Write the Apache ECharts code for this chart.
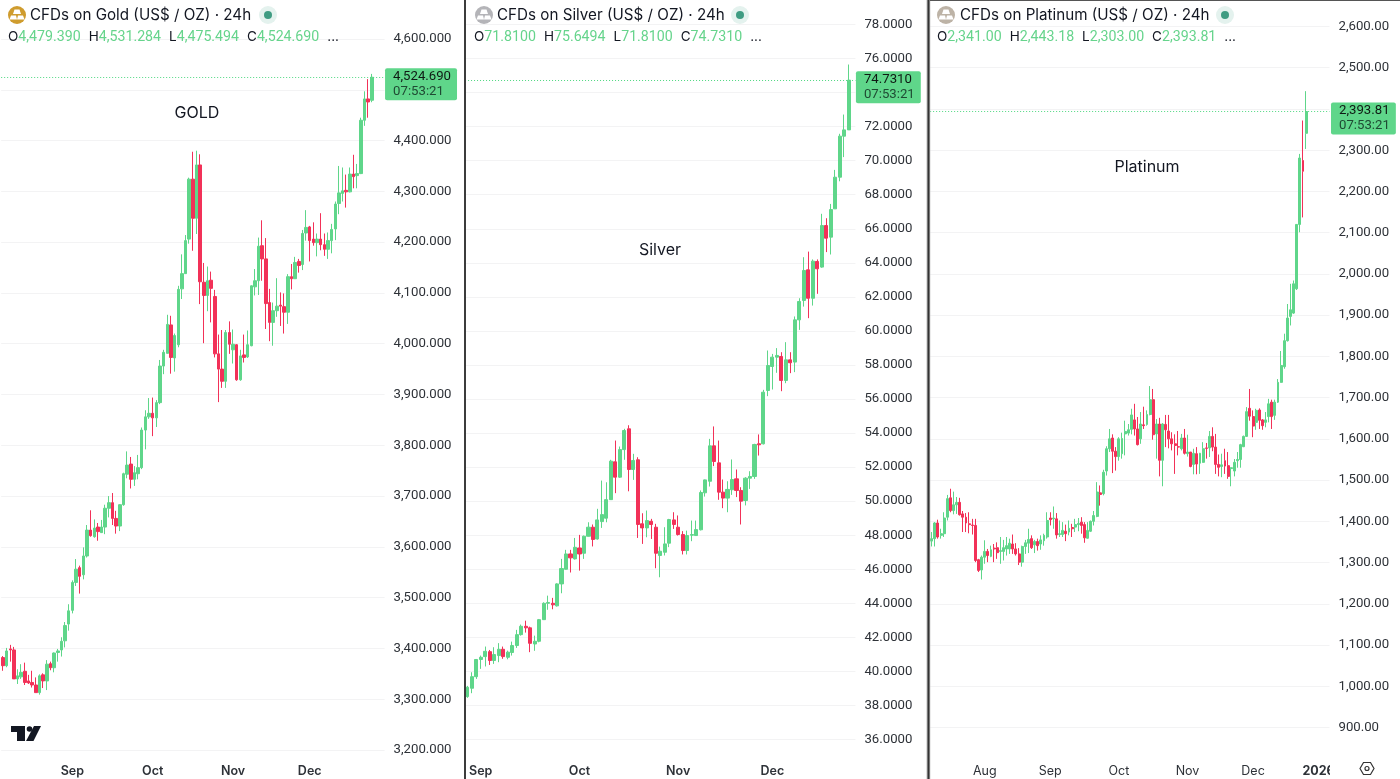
<!DOCTYPE html>
<html><head><meta charset="utf-8">
<style>html,body{margin:0;padding:0;background:#fff}#c{width:1400px;height:779px}</style>
<script src="https://cdn.jsdelivr.net/npm/echarts@6/dist/echarts.min.js"></script>
</head><body><div id="c"></div>
<script>
// each candle: [open, close, low, high]
const goldCandles=[[3382,3366,3356,3385],[3366,3395,3363,3401],[3399,3397,3374,3407],[3397,3340,3340,3403],[3340,3346,3330,3359],[3344,3353,3340,3369],[3355,3333,3328,3372],[3336,3332,3330,3348],[3333,3328,3323,3356],[3328,3313,3313,3343],
[3313,3346,3309,3349],[3348,3336,3322,3351],[3336,3369,3318,3377],[3370,3362,3357,3374],[3362,3391,3353,3392],[3392,3395,3374,3399],[3397,3414,3384,3422],[3415,3445,3402,3452],[3448,3474,3435,3487],[3475,3530,3469,3534],
[3530,3556,3523,3576],[3559,3542,3508,3563],[3545,3582,3536,3599],[3582,3633,3579,3643],[3633,3622,3620,3672],[3620,3637,3618,3654],[3639,3630,3612,3647],[3628,3639,3628,3653],[3639,3676,3625,3683],[3676,3687,3658,3700],
[3687,3656,3643,3706],[3656,3641,3626,3671],[3641,3683,3631,3684],[3683,3744,3681,3746],[3743,3761,3735,3788],[3763,3733,3715,3777],[3733,3746,3720,3759],[3744,3756,3733,3781],[3756,3830,3753,3835],[3830,3856,3792,3869],
[3856,3863,3852,3893],[3863,3854,3818,3894],[3854,3884,3836,3889],[3884,3956,3881,3968],[3956,3983,3940,3988],[3981,4038,3981,4057],[4037,3973,3941,4055],[3972,4016,3945,4020],[3998,4107,3993,4114],[4108,4138,4088,4176],
[4138,4203,4138,4214],[4206,4324,4197,4327],[4324,4247,4183,4378],[4247,4352,4216,4380],[4352,4122,4078,4373],[4121,4095,4001,4159],[4095,4124,4064,4152],[4125,4109,4042,4142],[4093,3980,3973,4106],[3980,3950,3885,4018],
[3950,3926,3913,4027],[3926,4022,3913,4027],[4022,3999,3980,4044],[3988,3999,3961,4028],[3998,3929,3927,3999],[3929,3976,3927,3988],[3978,3973,3963,4018],[3974,3998,3972,4026],[3996,4114,3995,4115],[4112,4124,4095,4147],
[4124,4192,4096,4209],[4193,4167,4124,4243],[4167,4079,4029,4208],[4081,4042,4005,4108],[4042,4065,3996,4081],[4065,4074,4053,4129],[4076,4074,4035,4101],[4073,4062,4020,4099],[4062,4132,4039,4137],[4132,4128,4107,4157],
[4128,4160,4128,4171],[4162,4154,4140,4167],[4156,4217,4145,4224],[4218,4229,4203,4263],[4230,4203,4162,4232],[4206,4199,4193,4239],[4199,4206,4172,4217],[4206,4195,4184,4257],[4195,4186,4173,4217],[4186,4203,4167,4219],
[4203,4225,4178,4236],[4226,4275,4204,4280],[4276,4297,4255,4350],[4296,4301,4280,4347],[4302,4299,4268,4333],[4299,4334,4298,4347],[4334,4329,4306,4372],[4331,4335,4306,4354],[4335,4440,4334,4445],[4440,4482,4429,4497],
[4482,4476,4445,4521],[4479.39,4524.69,4475.494,4531.284]];
const silverCandles=[[38.52,39.07,38.45,39.15],[39.01,39.69,38.72,39.95],[39.69,40.70,39.56,40.73],[40.70,40.83,40.15,40.93],[40.87,41.18,40.29,41.46],[41.16,40.64,40.38,41.26],[40.64,40.99,40.44,41.42],[40.93,41.30,40.54,41.66],[41.30,40.87,40.74,41.46],[40.83,41.13,40.71,41.22],
[41.11,41.52,40.93,41.75],[41.52,42.16,41.38,42.44],[42.16,42.65,42.10,42.75],[42.65,42.56,42.28,42.98],[42.56,41.65,41.13,42.63],[41.61,41.77,41.21,42.10],[41.77,43.04,41.71,43.08],[43.04,44.00,43.02,44.06],[44.00,44.05,43.62,44.45],[44.00,43.91,43.65,44.32],
[43.85,45.14,43.81,45.18],[45.14,46.04,44.59,46.61],[46.00,46.90,45.98,47.14],[46.90,46.67,45.81,47.14],[46.61,47.29,46.57,47.84],[47.25,46.90,45.92,48.02],[46.94,47.94,46.61,47.98],[47.94,48.47,47.92,48.76],[48.47,47.75,47.34,48.63],[47.78,48.90,47.74,49.55],
[48.80,49.21,48.43,51.21],[49.00,50.09,48.76,51.11],[50.09,52.35,50.09,52.43],[52.31,51.41,50.47,53.56],[51.41,53.03,51.37,53.21],[53.03,54.15,52.43,54.25],[54.25,51.86,50.58,54.46],[51.86,52.39,51.25,52.78],[52.43,48.63,47.84,52.58],[48.67,48.43,47.49,49.29],
[48.43,48.86,47.88,49.45],[48.82,48.63,47.78,48.96],[48.47,46.94,46.06,48.67],[46.81,47.06,45.53,47.33],[47.0,47.49,46.81,48.47],[47.53,48.92,47.3,48.96],[48.9,48.63,48.37,49.35],[48.47,48.04,47.98,49.16],[48.04,47.10,46.87,48.24],[47.10,47.98,46.87,48.27],
[48.0,48.04,47.65,48.86],[47.98,48.33,47.98,48.86],[48.32,50.51,48.28,50.63],[50.49,51.25,50.27,51.27],[51.17,53.25,50.86,53.66],[53.25,52.33,52.06,54.39],[52.25,50.53,50.08,53.56],[50.53,50.18,49.59,51.27],[50.18,50.69,49.35,51.17],[50.67,51.27,50.37,52.45],
[51.31,50.63,50.24,51.86],[50.63,50.0,48.63,50.82],[50.04,51.35,49.75,51.41],[51.35,51.45,50.72,51.76],[51.45,53.33,51.31,53.37],[53.37,53.31,52.68,53.92],[53.37,56.40,53.33,56.54],[56.50,57.97,56.17,58.85],[57.91,58.46,56.56,58.65],[58.46,58.56,57.54,58.99],
[58.50,57.09,56.46,58.75],[57.09,58.30,56.93,59.34],[58.30,58.13,57.52,58.75],[58.17,60.65,57.58,60.85],[60.65,61.73,60.06,61.92],[61.79,63.55,61.43,64.33],[63.59,61.92,60.75,64.66],[61.92,64.10,61.49,64.20],[64.08,63.65,62.18,64.20],[63.75,66.19,63.71,66.88],
[66.19,65.45,64.63,66.62],[65.51,67.13,64.49,67.46],[67.17,69.03,67.17,69.46],[69.03,71.44,68.79,71.58],[71.44,71.81,70.21,72.71],[71.81,74.731,71.81,75.6494]];
const platinumCandles=[[1352,1358,1339,1374],[1358,1396,1339,1398],[1396,1362,1358,1404],[1366,1370,1358,1382],[1370,1408,1362,1422],[1410,1455,1402,1464],[1457,1426,1422,1479],[1426,1440,1417,1472],[1440,1446,1418,1459],[1446,1416,1414,1457],
[1418,1410,1374,1425],[1410,1396,1374,1420],[1394,1392,1371,1422],[1391,1390,1368,1406],[1390,1305,1301,1406],[1307,1281,1277,1309],[1282,1313,1259,1317],[1313,1327,1297,1354],[1327,1317,1301,1333],[1315,1331,1313,1341],
[1335,1333,1301,1345],[1336,1324,1309,1349],[1327,1329,1297,1362],[1327,1336,1305,1355],[1333,1341,1317,1362],[1333,1347,1321,1358],[1345,1333,1321,1368],[1333,1321,1317,1347],[1321,1301,1294,1335],[1301,1339,1290,1341],
[1339,1348,1321,1355],[1347,1356,1323,1382],[1358,1336,1333,1366],[1343,1351,1323,1355],[1351,1341,1329,1358],[1345,1355,1331,1366],[1353,1366,1341,1370],[1362,1402,1358,1422],[1408,1404,1390,1422],[1406,1408,1382,1436],
[1406,1367,1358,1420],[1368,1370,1362,1402],[1368,1378,1362,1398],[1376,1370,1352,1392],[1374,1383,1366,1402],[1385,1382,1362,1394],[1386,1392,1374,1406],[1392,1395,1376,1408],[1398,1390,1370,1410],[1392,1360,1348,1398],
[1359,1378,1358,1398],[1376,1400,1374,1402],[1400,1414,1390,1425],[1412,1471,1410,1495],[1469,1465,1438,1487],[1467,1519,1463,1525],[1522,1576,1511,1582],[1576,1600,1568,1624],[1602,1570,1517,1611],[1570,1557,1523,1580],
[1557,1600,1547,1604],[1564,1601,1552,1615],[1612,1618,1560,1644],[1614,1622,1608,1636],[1623,1658,1611,1673],[1646,1624,1608,1685],[1624,1586,1584,1653],[1600,1636,1588,1665],[1634,1632,1624,1678],[1635,1659,1632,1669],
[1659,1695,1657,1728],[1695,1610,1598,1721],[1612,1636,1552,1648],[1636,1548,1509,1651],[1548,1636,1485,1638],[1635,1622,1580,1658],[1619,1600,1577,1658],[1600,1588,1572,1616],[1588,1584,1515,1611],[1581,1580,1560,1619],
[1576,1602,1572,1612],[1602,1565,1562,1624],[1564,1568,1557,1610],[1568,1533,1531,1568],[1538,1565,1514,1576],[1564,1539,1514,1580],[1541,1565,1515,1566],[1543,1576,1542,1592],[1578,1577,1552,1590],[1578,1606,1556,1619],
[1606,1580,1570,1628],[1580,1538,1515,1612],[1538,1531,1509,1562],[1533,1537,1507,1564],[1547,1534,1515,1576],[1535,1509,1503,1568],[1528,1530,1485,1531],[1522,1543,1509,1551],[1547,1550,1530,1568],[1550,1586,1530,1588],
[1581,1606,1580,1608],[1606,1666,1605,1677],[1674,1655,1644,1721],[1654,1631,1604,1669],[1640,1669,1622,1673],[1670,1645,1624,1674],[1646,1632,1622,1648],[1640,1646,1628,1665],[1654,1685,1640,1697],[1689,1654,1624,1695],
[1657,1689,1646,1695],[1689,1737,1687,1745],[1737,1778,1736,1813],[1775,1838,1770,1855],[1838,1893,1836,1927],[1897,1913,1875,1976],[1905,1976,1903,1984],[1964,2120,1961,2121],[2120,2281,2101,2291],[2275,2249,2137,2372],[2341,2393.81,2303,2443.18]];

const goldMonths={19:'Sep',41:'Oct',63:'Nov',84:'Dec'};
const silverMonths={3:'Sep',25:'Oct',47:'Nov',68:'Dec'};
const platinumMonths={17:'Aug',38:'Sep',60:'Oct',82:'Nov',103:'Dec',124:'2026'};
const goldTitle='CFDs on Gold (US$ / OZ) · 24h';
const silverTitle='CFDs on Silver (US$ / OZ) · 24h';
const platinumTitle='CFDs on Platinum (US$ / OZ) · 24h';
const countdown='07:53:21';

const FONT='Inter, "Liberation Sans", sans-serif';
const NUM='Roboto, "Liberation Sans", sans-serif';
const GREEN='#5fd68a', RED='#f23158', GRID='#f3f3f4', INK='#131722', AXIS='#2e3238';

const panels=[
 {name:'GOLD',title:goldTitle,data:goldCandles,months:goldMonths,slots:105,dec:3,min:3200,max:4600,step:100,
  left:-1.84,band:3.68,top:39,bottom:750,barW:3,labelMargin:9,xMargin:15,tagDist:0.5,pad:[1,6,1,8],
  icon:17,iconColor:'#cf9c2e',textX:30,dotX:268,ohlcX:8,note:[197,113],bold:true},
 {name:'Silver',title:silverTitle,data:silverCandles,months:silverMonths,slots:87,dec:4,min:36,max:78,step:2,
  left:465.06,band:4.487,top:24.5,bottom:739.5,barW:3.6,labelMargin:9,xMargin:25.5,tagDist:0.5,pad:[1,6,1,8],
  icon:484,iconColor:'#b4b4b8',textX:497,dotX:740,ohlcX:474,note:[660,250],bold:true},
 {name:'Platinum',title:platinumTitle,data:platinumCandles,months:platinumMonths,slots:128,dec:2,min:900,max:2600,step:100,
  left:930.14,band:3.12,top:26.5,bottom:727.5,barW:2.4,labelMargin:9,xMargin:37.5,tagDist:1.5,pad:[1,6,1,8],
  icon:946,iconColor:'#bdb3a6',textX:960,dotX:1225,ohlcX:937,note:[1147,167],bold:false}
];
const fmt=(v,d)=>Number(v).toLocaleString('en-US',{minimumFractionDigits:d,maximumFractionDigits:d});

const grid=[],xAxis=[],yAxis=[],series=[],graphic=[];
panels.forEach((p,i)=>{
  const cats=Array.from({length:p.slots},(_,k)=>p.months[k]||'');
  const last=p.data[p.data.length-1];
  grid.push({left:p.left,top:p.top,width:p.band*p.slots,height:p.bottom-p.top,containLabel:false});
  xAxis.push({type:'category',gridIndex:i,data:cats,boundaryGap:true,max:p.slots-1,
    axisLine:{show:false},axisTick:{show:false},splitLine:{show:false},
    axisLabel:{interval:0,margin:p.xMargin,color:AXIS,fontFamily:FONT,fontSize:12.5,fontWeight:p.bold?600:400,
      formatter:v=>v==='2026'?'{b|2026}':v,rich:{b:{fontFamily:FONT,fontSize:12.5,fontWeight:700,color:AXIS}}}});
  yAxis.push({type:'value',gridIndex:i,position:'right',min:p.min,max:p.max,interval:p.step,scale:true,
    axisLine:{show:false},axisTick:{show:false},
    splitLine:{show:true,lineStyle:{color:GRID,width:1}},
    axisLabel:{margin:p.labelMargin,color:AXIS,fontFamily:NUM,fontSize:13.2,showMinLabel:true,showMaxLabel:true,
      formatter:v=>fmt(v,p.dec)}});
  series.push({type:'candlestick',name:p.name,xAxisIndex:i,yAxisIndex:i,data:p.data,barWidth:p.barW,animation:false,silent:true,
    itemStyle:{color:GREEN,color0:RED,borderColor:GREEN,borderColor0:RED,borderWidth:1},
    markLine:{silent:true,animation:false,symbol:'none',lineStyle:{type:[1,2],color:'#4fd880',width:1,opacity:1},
      data:[{yAxis:last[1]}],
      label:{show:true,position:'end',distance:p.tagDist,offset:[0,7],backgroundColor:GREEN,borderRadius:2,padding:p.pad,
        formatter:()=>'{a|'+fmt(last[1],p.dec)+'}\n{b|'+countdown+'}',
        rich:{a:{fontFamily:NUM,fontSize:13.2,color:'#0f1a14',lineHeight:15},b:{fontFamily:NUM,fontSize:13.2,color:'#1f4a33',lineHeight:15}}}}});

  // header chrome
  const c=p.icon;
  graphic.push({type:'circle',z:50,shape:{cx:c,cy:15,r:9},style:{fill:p.iconColor}});
  [[[c-2.5,9.5],[c+2.5,9.5],[c+4,14],[c-4,14]],[[c-6,15.5],[c-1,15.5],[c,19.5],[c-7.5,19.5]],[[c+1,15.5],[c+6,15.5],[c+7.5,19.5],[c,19.5]]]
    .forEach(pts=>graphic.push({type:'polygon',z:51,shape:{points:pts},style:{fill:'#fff'}}));
  graphic.push({type:'text',z:50,left:p.textX,top:8,style:{text:p.title,fill:INK,font:'15.2px '+FONT}});
  graphic.push({type:'circle',z:50,shape:{cx:p.dotX,cy:15,r:9},style:{fill:'#e4f2ee'}});
  graphic.push({type:'circle',z:51,shape:{cx:p.dotX,cy:15,r:4},style:{fill:'#3f9c82'}});
  const o=last[0],h=last[3],l=last[2],cl=last[1];
  const lab=t=>'{k|'+t+'}', val=v=>'{v|'+fmt(v,p.dec)+'}', gap='{s| }';
  graphic.push({type:'text',z:50,left:p.ohlcX,top:30,style:{
    text:lab('O')+val(o)+gap+lab('H')+val(h)+gap+lab('L')+val(l)+gap+lab('C')+val(cl)+gap+lab('...'),
    rich:{k:{fill:INK,font:'13.5px '+FONT},v:{fill:'#66d48c',font:'14.2px '+NUM},s:{width:8,font:'13px '+NUM}}}});
  graphic.push({type:'text',z:50,x:p.note[0],y:p.note[1],style:{text:p.name,fill:INK,font:'16px '+FONT,textAlign:'center',textVerticalAlign:'middle'}});
});

// frame and logo chrome
graphic.push({type:'rect',z:60,shape:{x:464,y:0,width:2,height:779},style:{fill:'#3c3c3c'}});
graphic.push({type:'rect',z:60,shape:{x:926.5,y:0,width:3.8,height:779},style:{fill:'#bdbdbd'}});
graphic.push({type:'rect',z:61,shape:{x:927.5,y:0,width:2,height:779},style:{fill:'#333'}});
graphic.push({type:'rect',z:60,shape:{x:930,y:0,width:470,height:1},style:{fill:'#555'}});
graphic.push({type:'rect',z:60,shape:{x:1330,y:758,width:18,height:21},style:{fill:'#fff'}});
[[[11,726],[25,726],[25,741],[17,741],[17,732],[11,732]],[[34,726],[41,726],[33.5,741],[26,741]]]
  .forEach(pts=>graphic.push({type:'polygon',z:60,shape:{points:pts},style:{fill:INK}}));
graphic.push({type:'circle',z:60,shape:{cx:29.5,cy:729,r:2.8},style:{fill:INK}});
graphic.push({type:'polygon',z:60,shape:{points:[[1360,768.5],[1363.5,762.5],[1370.5,762.5],[1374,768.5],[1370.5,774.5],[1363.5,774.5]]},style:{fill:'none',stroke:'#333',lineWidth:1.2}});
graphic.push({type:'circle',z:60,shape:{cx:1367,cy:768.5,r:2},style:{fill:'none',stroke:'#333',lineWidth:1.2}});

const chart=echarts.init(document.getElementById('c'),null,{renderer:'canvas'});
chart.setOption({backgroundColor:'#fff',animation:false,grid,xAxis,yAxis,series,graphic});
</script></body></html>
